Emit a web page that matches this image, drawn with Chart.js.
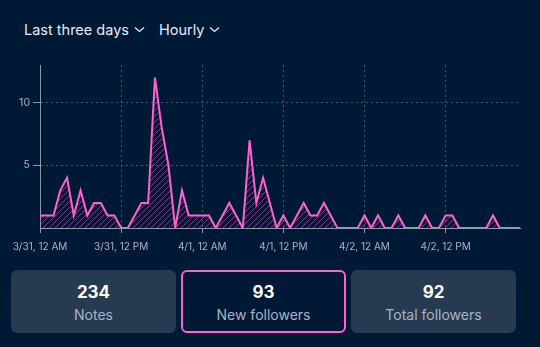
<!DOCTYPE html>
<html>
<head>
<meta charset="utf-8">
<script src="https://cdn.jsdelivr.net/npm/chart.js@4.4.0/dist/chart.umd.min.js"></script>
<style>
  html, body { margin: 0; padding: 0; background: #001935; width: 540px; height: 347px; overflow: hidden; font-family: Inter, "Noto Sans", sans-serif; }
  .filters { position: absolute; top: 21px; left: 24px; color: #e6ecf3; font-size: 14.5px; display: flex; gap: 14px; }
  .filters span { display: inline-flex; align-items: center; }
  .filters svg { margin-left: 5px; }
  .chart-box { position: absolute; left: 0; top: 55px; width: 540px; height: 200px; }
  .cards { position: absolute; top: 270px; left: 11px; display: flex; gap: 5px; }
  .card { width: 165px; height: 63px; background: #263a52; border-radius: 6px; box-sizing: border-box; text-align: center; color: #fff; }
  .card.sel { background: #001935; border: 2px solid #ff62ce; }
  .card .num { font-weight: 700; font-size: 17px; margin-top: 12px; line-height: 20px; }
  .card.sel .num { margin-top: 10px; }
  .card .lbl { color: #a9b4c2; font-size: 14px; margin-top: 3px; line-height: 20px; }
</style>
</head>
<body>
<div class="filters">
  <span>Last three days<svg width="11" height="7" viewBox="0 0 11 7"><path d="M1 1.5 L5.5 5.5 L10 1.5" stroke="#e6ecf3" stroke-width="1.3" fill="none"/></svg></span>
  <span>Hourly<svg width="11" height="7" viewBox="0 0 11 7"><path d="M1 1.5 L5.5 5.5 L10 1.5" stroke="#e6ecf3" stroke-width="1.3" fill="none"/></svg></span>
</div>
<div class="chart-box"><canvas id="followersChart"></canvas></div>
<div class="cards" id="cards"></div>

<script>
// ===== DATA =====
const tickLabels = ['3/31, 12 AM', '3/31, 12 PM', '4/1, 12 AM', '4/1, 12 PM', '4/2, 12 AM', '4/2, 12 PM'];
// new followers per hour, 72 hours starting 3/31 12 AM
const newFollowers = [
  1, 1, 1, 3, 4, 1, 3, 1, 2, 2, 1, 1,
  0, 0, 1, 2, 2, 12, 8, 5, 0, 3, 1, 1,
  1, 1, 0, 1, 2, 1, 0, 7, 2, 4, 2, 0,
  1, 0, 1, 2, 1, 1, 2, 1, 0, 0, 0, 0,
  1, 0, 1, 0, 0, 1, 0, 0, 0, 1, 0, 0,
  1, 1, 0, 0, 0, 0, 0, 1, 0, 0, 0, 0,
];
const yTicks = [5, 10];
const cardNames  = ['Notes', 'New followers', 'Total followers'];
const cardValues = [234, 93, 92];
const selectedCard = 1;

const PINK = '#ff62ce';
const GRID = '#3d5976';
const AXIS = '#8d9aab';
const TICK_TXT = '#a9b4c2';

// ======== CARDS ========
const cardsEl = document.getElementById('cards');
cardNames.forEach((name, i) => {
  const c = document.createElement('div');
  c.className = 'card' + (i === selectedCard ? ' sel' : '');
  c.innerHTML = `<div class="num">${cardValues[i]}</div><div class="lbl">${name}</div>`;
  cardsEl.appendChild(c);
});

// ======== HATCH PATTERN ========
function makeHatch() {
  const size = 6;
  const pc = document.createElement('canvas');
  pc.width = size; pc.height = size;
  const p = pc.getContext('2d');
  p.strokeStyle = 'rgba(255,98,206,0.5)';
  p.lineWidth = 1;
  p.beginPath();
  p.moveTo(0, size); p.lineTo(size, 0);
  p.moveTo(-size, size); p.lineTo(0, 0);
  p.moveTo(size, 2 * size); p.lineTo(2 * size, size);
  p.stroke();
  return p.createPattern(pc, 'repeat');
}

// ======== CHART ========
const hours = newFollowers.map((v, i) => i);

new Chart(document.getElementById('followersChart'), {
  type: 'line',
  data: {
    labels: hours,
    datasets: [{
      data: newFollowers,
      borderColor: PINK,
      borderWidth: 2,
      backgroundColor: makeHatch(),
      fill: 'origin',
      tension: 0,
      pointRadius: 0,
    }],
  },
  options: {
    responsive: true, maintainAspectRatio: false,
    animation: false,
    layout: { padding: { top: 10, right: 20, left: 0, bottom: 0 } },
    plugins: { legend: { display: false }, tooltip: { enabled: false } },
    scales: {
      x: {
        type: 'category',
        offset: false,
        afterFit: s => { s.height = 27; },
        grid: { color: GRID, tickColor: AXIS, tickLength: 5, tickBorderDash: [] },
        border: { color: AXIS, width: 1, dash: [2, 3] },
        ticks: {
          autoSkip: false, maxRotation: 0, padding: 8,
          color: TICK_TXT, font: { family: 'Inter', size: 10 },
          callback: (v, i) => (i % 12 === 0 ? tickLabels[i / 12] : null),
        },
      },
      y: {
        min: 0, max: 13,
        afterFit: s => { s.width = 40; },
        afterBuildTicks: s => { s.ticks = yTicks.map(v => ({ value: v })); },
        grid: { color: GRID, tickColor: AXIS, tickLength: 7, tickBorderDash: [] },
        border: { color: AXIS, width: 1, dash: [2, 3] },
        ticks: { padding: 3, color: TICK_TXT, font: { family: 'Inter', size: 10.5 } },
      },
    },
  },
});
</script>
</body>
</html>
